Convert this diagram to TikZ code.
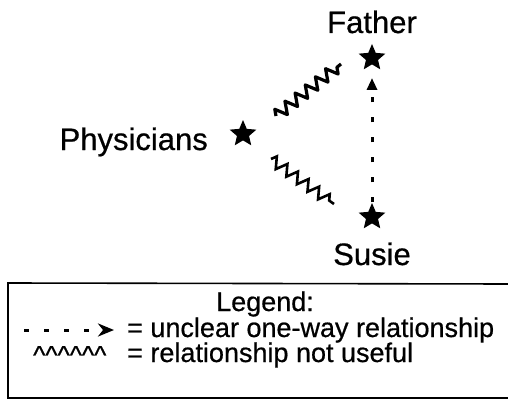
\documentclass[tikz,border=0pt]{standalone}
\usepackage{fontspec}
\setmainfont{Liberation Sans}
\newfontfamily\heavysans{Liberation Sans}[FakeBold=0.6]
\usetikzlibrary{shapes.geometric,decorations.pathmorphing,arrows.meta}

\tikzset{
  lbl/.style={font=\heavysans\fontsize{31}{31}\selectfont, inner sep=0pt},
  legtext/.style={font=\heavysans\fontsize{27}{27}\selectfont, inner sep=0pt},
  starmark/.style={star, star points=5, star point ratio=2.2, fill=black,
    draw=none, minimum size=28pt, inner sep=0pt},
  wavy/.style={decorate, decoration={zigzag, segment length=13pt, amplitude=6pt},
    line width=3.2pt, line join=round},
  chevrons/.style={decorate, decoration={zigzag, segment length=13pt, amplitude=5.5pt},
    line width=2.6pt, line join=miter},
  unclear/.style={line width=3pt, dash pattern=on 5pt off 15pt,
    -{Triangle[length=12pt, width=10pt]}},
}

\begin{document}
\begin{tikzpicture}[x=1pt, y=-1pt]
\useasboundingbox (0,0) rectangle (508,401);

% actors
\node[starmark] (father) at (372,58) {};
\node[starmark] (phys) at (243,134) {};
\node[starmark] (susie) at (372,217) {};

\node[lbl, anchor=base] (fatherlbl) at (372,33) {Father};
\node[lbl, anchor=base east] (physlbl) at (208,150) {Physicians};
\node[lbl, anchor=base] (susielbl) at (372,265) {Susie};

% relationships
\coordinate (pu) at (276,116);
\coordinate (fu) at (341,64);
\coordinate (pl) at (271,159);
\coordinate (sl) at (334,204);
\coordinate (fa) at (372,78);
\draw[wavy] (pu) -- (fu);
\draw[chevrons] (pl) -- (sl);
\draw[unclear] (susie.north) -- (fa);

% legend box (open on the right)
\coordinate (boxtr) at (510,284);
\coordinate (boxtl) at (8,283);
\coordinate (boxbl) at (8,398);
\coordinate (boxbr) at (510,398);
\draw[line width=1.6pt] (boxtr) -- (boxtl) -- (boxbl) -- (boxbr);

\node[legtext, anchor=base] (legtitle) at (265,311) {Legend:};
\coordinate (la) at (24,330);
\coordinate (lb) at (114,330);
\draw[line width=3pt, dash pattern=on 5pt off 15pt,
  -{Stealth[length=16pt, width=13pt, inset=5pt]}] (la) -- (lb);
\node[legtext, anchor=base west] (leg1) at (127,337) {= unclear one-way relationship};
\node[font=\heavysans\fontsize{26}{26}\selectfont, inner sep=0pt, anchor=base west] (caret)
  at (33,364) {\string^\string^\string^\string^\string^\string^};
\node[legtext, anchor=base west] (leg2) at (127,362) {= relationship not useful};
\end{tikzpicture}
\end{document}
